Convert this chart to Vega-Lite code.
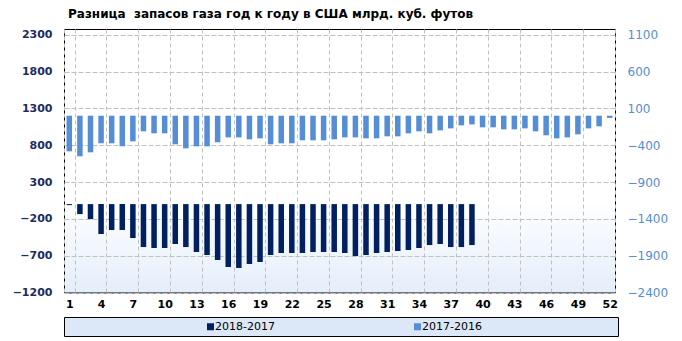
{
  "$schema": "https://vega.github.io/schema/vega-lite/v6.json",
  "autosize": "none",
  "width": 551,
  "height": 263.5,
  "padding": {"left": 64, "top": 29, "right": 67, "bottom": 48.5},
  "background": "#ffffff",
  "title": {
    "text": "Разница\u00a0 запасов газа год к году в США млрд. куб. футов",
    "anchor": "start",
    "frame": "group",
    "dx": 4,
    "offset": 8,
    "font": "DejaVu Sans",
    "fontSize": 12,
    "fontWeight": "bold",
    "color": "#000000"
  },
  "config": {
    "view": {
      "stroke": "#000000",
      "strokeWidth": 1,
      "fill": {
        "gradient": "linear", "x1": 0, "y1": 0, "x2": 0, "y2": 1,
        "stops": [
          {"offset": 0, "color": "#ffffff"},
          {"offset": 0.65, "color": "#ffffff"},
          {"offset": 1, "color": "#e4eefa"}
        ]
      }
    },
    "axis": {"labelFont": "DejaVu Sans", "domain": false, "ticks": false, "labelOverlap": false}
  },
  "data": {
    "values": [
      {"week": 1, "series": "2017-2016", "value": -484},
      {"week": 2, "series": "2017-2016", "value": -551},
      {"week": 3, "series": "2017-2016", "value": -497},
      {"week": 4, "series": "2017-2016", "value": -375},
      {"week": 5, "series": "2017-2016", "value": -375},
      {"week": 6, "series": "2017-2016", "value": -416},
      {"week": 7, "series": "2017-2016", "value": -348},
      {"week": 8, "series": "2017-2016", "value": -212},
      {"week": 9, "series": "2017-2016", "value": -239},
      {"week": 10, "series": "2017-2016", "value": -239},
      {"week": 11, "series": "2017-2016", "value": -388},
      {"week": 12, "series": "2017-2016", "value": -443},
      {"week": 13, "series": "2017-2016", "value": -416},
      {"week": 14, "series": "2017-2016", "value": -416},
      {"week": 15, "series": "2017-2016", "value": -361},
      {"week": 16, "series": "2017-2016", "value": -294},
      {"week": 17, "series": "2017-2016", "value": -294},
      {"week": 18, "series": "2017-2016", "value": -321},
      {"week": 19, "series": "2017-2016", "value": -307},
      {"week": 20, "series": "2017-2016", "value": -388},
      {"week": 21, "series": "2017-2016", "value": -375},
      {"week": 22, "series": "2017-2016", "value": -375},
      {"week": 23, "series": "2017-2016", "value": -334},
      {"week": 24, "series": "2017-2016", "value": -334},
      {"week": 25, "series": "2017-2016", "value": -334},
      {"week": 26, "series": "2017-2016", "value": -321},
      {"week": 27, "series": "2017-2016", "value": -294},
      {"week": 28, "series": "2017-2016", "value": -294},
      {"week": 29, "series": "2017-2016", "value": -307},
      {"week": 30, "series": "2017-2016", "value": -307},
      {"week": 31, "series": "2017-2016", "value": -280},
      {"week": 32, "series": "2017-2016", "value": -280},
      {"week": 33, "series": "2017-2016", "value": -239},
      {"week": 34, "series": "2017-2016", "value": -212},
      {"week": 35, "series": "2017-2016", "value": -239},
      {"week": 36, "series": "2017-2016", "value": -199},
      {"week": 37, "series": "2017-2016", "value": -172},
      {"week": 38, "series": "2017-2016", "value": -131},
      {"week": 39, "series": "2017-2016", "value": -118},
      {"week": 40, "series": "2017-2016", "value": -158},
      {"week": 41, "series": "2017-2016", "value": -158},
      {"week": 42, "series": "2017-2016", "value": -185},
      {"week": 43, "series": "2017-2016", "value": -185},
      {"week": 44, "series": "2017-2016", "value": -172},
      {"week": 45, "series": "2017-2016", "value": -212},
      {"week": 46, "series": "2017-2016", "value": -266},
      {"week": 47, "series": "2017-2016", "value": -307},
      {"week": 48, "series": "2017-2016", "value": -294},
      {"week": 49, "series": "2017-2016", "value": -253},
      {"week": 50, "series": "2017-2016", "value": -172},
      {"week": 51, "series": "2017-2016", "value": -144},
      {"week": 52, "series": "2017-2016", "value": -30},
      {"week": 1, "series": "2018-2017", "value": -14},
      {"week": 2, "series": "2018-2017", "value": -136},
      {"week": 3, "series": "2018-2017", "value": -203},
      {"week": 4, "series": "2018-2017", "value": -407},
      {"week": 5, "series": "2018-2017", "value": -352},
      {"week": 6, "series": "2018-2017", "value": -352},
      {"week": 7, "series": "2018-2017", "value": -461},
      {"week": 8, "series": "2018-2017", "value": -583},
      {"week": 9, "series": "2018-2017", "value": -596},
      {"week": 10, "series": "2018-2017", "value": -596},
      {"week": 11, "series": "2018-2017", "value": -542},
      {"week": 12, "series": "2018-2017", "value": -583},
      {"week": 13, "series": "2018-2017", "value": -650},
      {"week": 14, "series": "2018-2017", "value": -691},
      {"week": 15, "series": "2018-2017", "value": -759},
      {"week": 16, "series": "2018-2017", "value": -854},
      {"week": 17, "series": "2018-2017", "value": -867},
      {"week": 18, "series": "2018-2017", "value": -813},
      {"week": 19, "series": "2018-2017", "value": -786},
      {"week": 20, "series": "2018-2017", "value": -691},
      {"week": 21, "series": "2018-2017", "value": -664},
      {"week": 22, "series": "2018-2017", "value": -664},
      {"week": 23, "series": "2018-2017", "value": -664},
      {"week": 24, "series": "2018-2017", "value": -650},
      {"week": 25, "series": "2018-2017", "value": -650},
      {"week": 26, "series": "2018-2017", "value": -650},
      {"week": 27, "series": "2018-2017", "value": -664},
      {"week": 28, "series": "2018-2017", "value": -705},
      {"week": 29, "series": "2018-2017", "value": -691},
      {"week": 30, "series": "2018-2017", "value": -664},
      {"week": 31, "series": "2018-2017", "value": -650},
      {"week": 32, "series": "2018-2017", "value": -637},
      {"week": 33, "series": "2018-2017", "value": -623},
      {"week": 34, "series": "2018-2017", "value": -596},
      {"week": 35, "series": "2018-2017", "value": -556},
      {"week": 36, "series": "2018-2017", "value": -542},
      {"week": 37, "series": "2018-2017", "value": -583},
      {"week": 38, "series": "2018-2017", "value": -583},
      {"week": 39, "series": "2018-2017", "value": -556}
    ]
  },
  "encoding": {
    "x": {
      "field": "week",
      "type": "ordinal",
      "sort": "ascending",
      "scale": {"paddingInner": 0, "paddingOuter": 0},
      "axis": {
        "title": null,
        "values": [1, 4, 7, 10, 13, 16, 19, 22, 25, 28, 31, 34, 37, 40, 43, 46, 49, 52],
        "labelAngle": 0,
        "labelFontSize": 11,
        "labelFontWeight": "bold",
        "labelColor": "#000000",
        "labelPadding": 6,
        "tickBand": "extent",
        "grid": true,
        "gridColor": "#c0c0c0",
        "gridDash": [4, 3],
        "gridWidth": 1
      }
    },
    "color": {
      "field": "series",
      "type": "nominal",
      "scale": {"domain": ["2018-2017", "2017-2016"], "range": ["#002060", "#558ed5"]},
      "legend": {
        "title": " ",
        "titleOrient": "right",
        "titlePadding": 132,
        "titleFontSize": 11,
        "orient": "none",
        "legendX": 0,
        "legendY": 288,
        "direction": "horizontal",
        "fillColor": "#dce8f7",
        "strokeColor": "#000000",
        "padding": 4,
        "symbolType": "square",
        "symbolSize": 49,
        "symbolStrokeWidth": 0,
        "symbolOpacity": 1,
        "symbolOffset": 137,
        "labelOffset": -1,
        "labelFont": "DejaVu Sans",
        "labelFontSize": 11,
        "labelColor": "#000000",
        "columnPadding": -2
      }
    }
  },
  "layer": [
    {
      "transform": [{"filter": "datum.series === '2017-2016'"}],
      "mark": {"type": "bar", "width": {"band": 0.52}},
      "encoding": {
        "y": {
          "field": "value",
          "type": "quantitative",
          "scale": {"domain": [-2400, 1177], "nice": false},
          "axis": {
            "orient": "right",
            "title": null,
            "format": "d",
            "values": [-2400, -1900, -1400, -900, -400, 100, 600, 1100],
            "grid": true,
            "gridColor": "#c0c0c0",
            "gridDash": [4, 3],
            "gridWidth": 1,
            "labelFontSize": 12,
            "labelColor": "#558ed5",
            "labelPadding": 12
          }
        }
      }
    },
    {
      "layer": [
        {
          "transform": [{"filter": "datum.series === '2018-2017'"}],
          "mark": {"type": "bar", "width": {"band": 0.52}},
          "encoding": {
            "y": {
              "field": "value",
              "type": "quantitative",
              "scale": {"domain": [-1200, 2377], "nice": false},
              "axis": {
                "orient": "left",
                "title": null,
                "format": "d",
                "values": [-1200, -700, -200, 300, 800, 1300, 1800, 2300],
                "labelOverlap": false,
                "grid": true,
                "gridColor": "#c0c0c0",
                "gridDash": [4, 3],
                "labelFontSize": 11,
                "labelFontWeight": "bold",
                "labelColor": "#1c2c5e",
                "labelPadding": 12
              }
            }
          }
        },
        {
          "mark": {"type": "rule", "color": "#000000", "strokeWidth": 1},
          "encoding": {
            "y": {
              "datum": 0,
              "type": "quantitative",
              "axis": {
                "orient": "left",
                "title": null,
                "format": "d",
                "values": [-1200, -700, -200, 300, 800, 1300, 1800, 2300],
                "labelOverlap": false,
                "grid": true,
                "gridColor": "#c0c0c0",
                "gridDash": [4, 3],
                "labelFontSize": 11,
                "labelFontWeight": "bold",
                "labelColor": "#1c2c5e",
                "labelPadding": 12
              }
            },
            "color": {"value": "#000000"}
          }
        }
      ]
    }
  ],
  "resolve": {"scale": {"y": "independent"}}
}
